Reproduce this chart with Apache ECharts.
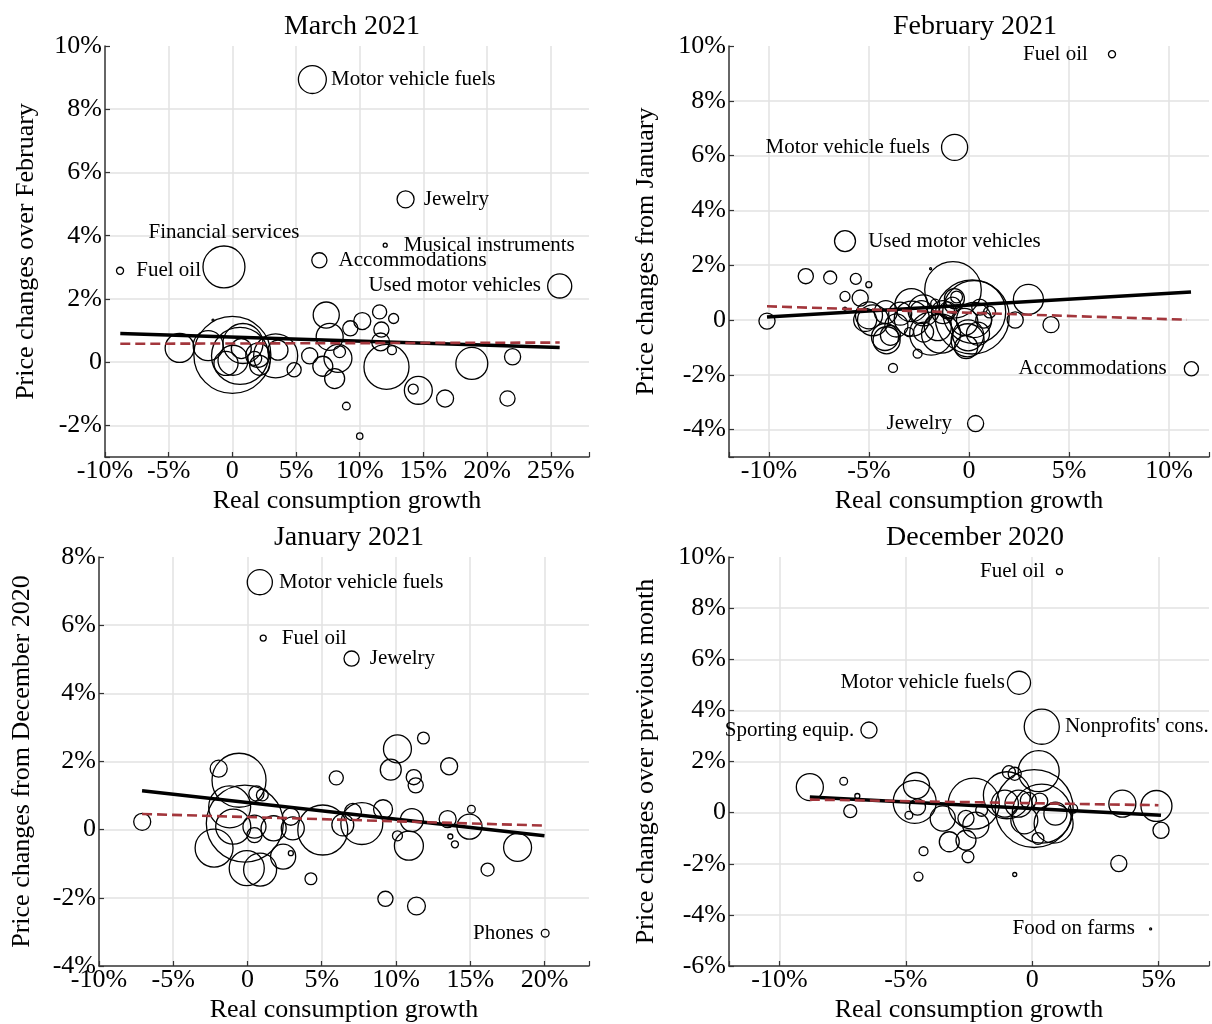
<!DOCTYPE html>
<html><head><meta charset="utf-8">
<script src="https://cdn.jsdelivr.net/npm/echarts@6/dist/echarts.min.js"></script>
<style>html,body{margin:0;padding:0;background:#fff}#c{width:1212px;height:1024px}</style>
</head><body><div id="c"></div><script>
// ---------- DATA: [real consumption growth %, price change %, expenditure weight] ----------
const marchPts = [
 [-4.14,0.45,8.4],[-1.9,0.52,9],[-1.52,1.33,0.04],[0.0,0.23,59.3],[0.6,0.2,32.5],[0.83,0.59,16],
 [0.05,0.06,9],[0.7,0.43,4],[-0.5,-0.04,5.8],[1.75,0.12,2],[2.0,0.22,5.8],[2.14,-0.1,4],
 [3.58,0.38,4],[3.4,0.2,19.4],[4.85,-0.24,2],[6.07,0.2,2.6],[7.37,1.49,6.8],[7.64,0.8,7.3],
 [7.1,-0.13,4],[8.03,-0.52,4],[8.29,0.12,7.8],[8.42,0.33,1.4],[9.26,1.07,2.3],[10.2,1.3,2.9],
 [11.56,1.59,2],[11.7,1.03,2.3],[11.64,0.64,3.2],[12.66,1.38,1],[12.53,0.38,0.8],[12.1,-0.15,20.3],
 [8.95,-1.39,0.6],[10.0,-2.34,0.4],[14.2,-0.85,1],[14.6,-0.89,7.8],[16.7,-1.15,2.9],[18.8,-0.04,10.2],
 [22.0,0.17,2.6],[21.6,-1.15,2.3]
];
const marchLabeled = [
 [6.28,8.94,7.8,'Motor vehicle fuels'],[13.6,5.15,2.9,'Jewelry'],[-0.66,3.01,17.6,'Financial services'],
 [-8.82,2.89,0.5,'Fuel oil'],[12.0,3.70,0.16,'Musical instruments'],[6.83,3.22,2.3,'Accommodations'],
 [25.7,2.41,5.8,'Used motor vehicles']
];
const marchFit = [[-8.8,0.91],[25.7,0.46]];
const marchFitW = [[-8.8,0.58],[25.7,0.62]];

const febPts = [
 [-10.1,-0.04,2.6],[-8.16,1.6,2.3],[-6.94,1.55,1.7],[-5.66,1.5,1.2],[-5.01,1.29,0.36],[-6.2,0.86,1],
 [-5.44,0.8,2.6],[-6.2,0.41,0.09],[-3.8,-1.75,0.8],[-2.57,-1.23,0.8],[2.31,0.0,2.6],[2.97,0.75,9],
 [4.1,-0.17,2.6],[-1.92,1.87,0.04],[-0.8,1.1,32],[0.16,0.11,54.8],[-1.4,-0.5,15.2],[-0.04,-0.56,9.6],
 [0.25,0.0,12.3],[-2.27,0.35,9.6],[-2.86,0.05,12.3],[-2.27,-0.44,4],[-3.44,0.23,5.3],[-3.93,-0.56,4],
 [-4.12,-0.74,7.3],[-5.0,0.17,7.3],[-4.8,-0.01,9.6],[-4.16,0.29,5.3],[-3.63,-0.2,5.3],[-3.0,-0.44,0.8],
 [-1.3,0.29,5.3],[-0.82,0.54,2.6],[-0.62,0.84,1.4],[0.54,0.47,2.6],[0.74,0.0,2.6],[1.03,0.29,1.4],
 [0.45,-0.5,5.3],[-0.14,-0.99,5.3],[-1.69,0.6,0.8],[0.26,0.29,39.7],[-2.88,0.54,10.9],
 [-1.89,-0.5,18.5],[-2.38,0.29,5.3],[-1.56,-0.26,7.3],[-0.07,-0.74,10.9],[-0.23,-0.07,7.3],
 [-0.73,0.78,4],[-1.06,0.35,2.9],[-5.19,0.0,5.3],[-4.2,-0.62,7.3]
];
const febLabeled = [
 [7.15,9.7,0.5,'Fuel oil'],[-0.72,6.3,6.8,'Motor vehicle fuels'],[-6.2,2.88,4.4,'Used motor vehicles'],
 [11.12,-1.78,2,'Accommodations'],[0.33,-3.78,2.6,'Jewelry']
];
const febFit = [[-10.1,0.11],[11.1,1.02]];
const febFitW = [[-10.1,0.5],[10.9,0.01]];

const janPts = [
 [-7.09,0.23,2.9],[-1.94,1.79,2.9],[-0.57,1.45,29.2],[-0.18,0.18,59.3],[-1.2,0.67,17.6],[-0.96,0.09,12.3],
 [-2.25,-0.54,14.4],[-0.05,-1.13,12.3],[0.85,-1.17,10.9],[2.4,-0.79,6.3],[1.76,0.04,6.3],[0.47,0.09,5.3],
 [0.47,-0.16,2.3],[0.6,1.06,2.3],[1.0,1.02,1.4],[2.92,0.38,2.9],[3.05,0.04,5.3],[2.92,-0.69,0.25],
 [4.27,-1.44,1.4],[5.98,1.52,2],[5.07,-0.01,25],[6.42,0.14,4.8],[7.1,0.52,2.9],[7.7,0.18,17.6],
 [9.13,0.6,3.6],[9.65,1.76,4.4],[10.1,2.37,7.8],[11.85,2.69,1.4],[11.2,1.54,2.3],[11.33,1.3,2.3],
 [10.1,-0.18,1],[11.07,0.28,5.3],[10.87,-0.47,8.4],[9.29,-2.03,2.3],[11.38,-2.24,3.2],[13.58,1.86,2.9],
 [13.48,0.31,2.9],[13.66,-0.2,0.25],[13.97,-0.43,0.5],[15.08,0.6,0.6],[14.95,0.09,6.3],[16.17,-1.17,1.7],
 [18.19,-0.52,7.8]
];
const janLabeled = [
 [0.83,7.26,6.3,'Motor vehicle fuels'],[1.06,5.62,0.36,'Fuel oil'],[7.01,5.02,2.3,'Jewelry'],
 [20.05,-3.04,0.6,'Phones']
];
const janFit = [[-7.1,1.14],[20.0,-0.18]];
const janFitW = [[-7.1,0.46],[20.0,0.12]];

const decPts = [
 [-8.8,1.0,7.3],[-7.46,1.23,0.6],[-6.92,0.65,0.25],[-7.2,0.06,1.7],[-4.58,1.06,6.8],[-4.65,0.42,18.5],
 [-4.54,0.22,2.6],[-4.88,-0.1,0.6],[-4.3,-1.51,0.8],[-4.5,-2.5,0.8],[-3.54,-0.23,6.3],[-3.28,-1.14,4],
 [-2.62,-1.08,4],[-2.54,-1.73,1.4],[-2.31,0.35,26],[-2.23,-0.49,6.8],[-2.62,-0.23,2.6],[-2.0,0.09,1.4],
 [-0.92,1.58,1.7],[-0.69,1.52,1.7],[0.26,1.62,16.8],[0.08,0.16,60.8],[-1.0,0.68,22.1],[-1.08,0.35,7.3],
 [-0.54,0.35,7.3],[-0.31,-0.3,7.3],[0.38,-0.04,34.8],[0.85,-0.43,15.2],[0.92,-0.04,5.3],[0.23,-1.01,1.4],
 [1.62,0.16,0.8],[-0.69,-2.42,0.16],[3.57,0.35,7.3],[3.43,-1.99,2.6],[4.92,0.26,9.6],[5.1,-0.69,2.6],
 [-0.15,0.48,2.6],[0.3,0.45,2.6]
];
const decLabeled = [
 [1.08,9.43,0.36,'Fuel oil'],[-0.52,5.08,5.3,'Motor vehicle fuels'],[0.38,3.36,12.3,"Nonprofits' cons."],
 [-6.46,3.23,2.6,'Sporting equip.'],[4.69,-4.55,0.04,'Food on farms']
];
const decFit = [[-8.8,0.61],[5.1,-0.1]];
const decFitW = [[-8.8,0.51],[5.0,0.29]];

const titles = ['March 2021','February 2021','January 2021','December 2020'];
const yNames = ['Price changes over February','Price changes from January','Price changes from December 2020','Price changes over previous month'];
const xName = 'Real consumption growth';

// ---------- LAYOUT / STYLE ----------
const FONT = "'Liberation Serif','Times New Roman',serif";
const labelPlace = {
 0: {'Motor vehicle fuels':['right',4],'Jewelry':['right',9],'Financial services':['top',2],'Fuel oil':['right',12],
     'Musical instruments':['right',16],'Accommodations':['right',11],'Used motor vehicles':['left',6]},
 1: {'Fuel oil':['left',20],'Motor vehicle fuels':['left',11],'Used motor vehicles':['right',12],
     'Accommodations':['left',17],'Jewelry':['left',15]},
 2: {'Motor vehicle fuels':['right',6],'Fuel oil':['right',15],'Jewelry':['right',10],'Phones':['left',7]},
 3: {'Fuel oil':['left',11],'Motor vehicle fuels':['left',2],"Nonprofits' cons.":['right',5],
     'Sporting equip.':['left',6],'Food on farms':['left',14]}
};
const panels = [
 {pts:marchPts, lab:marchLabeled, fit:marchFit, fitW:marchFitW, grid:{left:105,top:46,width:484,height:411},
  x:[-10,28,8], y:[-3,10,6], yGap:66, tTop:8, tx:347},
 {pts:febPts, lab:febLabeled, fit:febFit, fitW:febFitW, grid:{left:729,top:46,width:483,height:411},
  x:[-12,12,5], y:[-5,10,7], yGap:70, tTop:8, tx:970},
 {pts:janPts, lab:janLabeled, fit:janFit, fitW:janFitW, grid:{left:99,top:557,width:490,height:412},
  x:[-10,23,7], y:[-4,8,6], yGap:64, tTop:519, tx:344},
 {pts:decPts, lab:decLabeled, fit:decFit, fitW:decFitW, grid:{left:729,top:557,width:483,height:412},
  x:[-12,7,4], y:[-6,10,8], yGap:70, tTop:519, tx:970}
];
function fmt(step){return v=>{const r=Math.abs(v/step-Math.round(v/step));if(r>1e-6)return '';return v===0?'0':Math.round(v)+'%';};}
const axisLine={show:true,onZero:false,lineStyle:{color:'#333',width:1.5}};
const axisTick={show:true,inside:true,length:5,lineStyle:{color:'#333',width:1.2}};
const splitLine={show:true,showMaxLine:false,showMinLine:false,lineStyle:{color:'#e2e2e2',width:1.5}};
const txt={fontFamily:FONT,color:'#000',fontSize:26};

const option={animation:false,backgroundColor:'#fff',title:[],grid:[],xAxis:[],yAxis:[],series:[]};
panels.forEach((p,i)=>{
 option.title.push({text:titles[i],left:p.tx,top:p.tTop,textAlign:'center',
   textStyle:{fontFamily:FONT,fontSize:28,fontWeight:'normal',color:'#000'}});
 option.grid.push(Object.assign({containLabel:false},p.grid));
 option.xAxis.push({gridIndex:i,type:'value',min:p.x[0],max:p.x[1],splitNumber:p.x[2],
   axisLine,axisTick,splitLine,axisLabel:Object.assign({margin:1,formatter:fmt(5),showMaxLabel:true,showMinLabel:true},txt),
   name:xName,nameLocation:'middle',nameGap:31,nameTextStyle:txt});
 option.yAxis.push({gridIndex:i,type:'value',min:p.y[0],max:p.y[1],splitNumber:p.y[2],
   axisLine,axisTick,splitLine,axisLabel:Object.assign({margin:3,formatter:fmt(2)},txt),
   name:yNames[i],nameLocation:'middle',nameGap:p.yGap,nameRotate:90,nameTextStyle:txt});
 const sym=v=>Math.max(2,10*Math.sqrt(v[2]));
 const labData=p.lab.map(d=>{const pl=labelPlace[i][d[3]];return {value:[d[0],d[1],d[2]],
   label:{show:true,formatter:d[3],position:pl[0],distance:pl[1],fontFamily:FONT,fontSize:21,color:'#000'}};});
 option.series.push({type:'scatter',xAxisIndex:i,yAxisIndex:i,data:p.pts.map(d=>({value:d})).concat(labData),
   symbol:'circle',symbolSize:sym,silent:true,clip:false,
   itemStyle:{color:'rgba(0,0,0,0)',borderColor:'#000',borderWidth:1.3,opacity:1}});
 option.series.push({type:'line',xAxisIndex:i,yAxisIndex:i,data:p.fit,showSymbol:false,symbol:'none',silent:true,
   lineStyle:{color:'#000',width:3.5},z:3});
 option.series.push({type:'line',xAxisIndex:i,yAxisIndex:i,data:p.fitW,showSymbol:false,symbol:'none',silent:true,
   lineStyle:{color:'#a3363c',width:2.6,type:[10,5]},z:4});
});
const chart=echarts.init(document.getElementById('c'),null,{renderer:'canvas'});
chart.setOption(option);
</script></body></html>
